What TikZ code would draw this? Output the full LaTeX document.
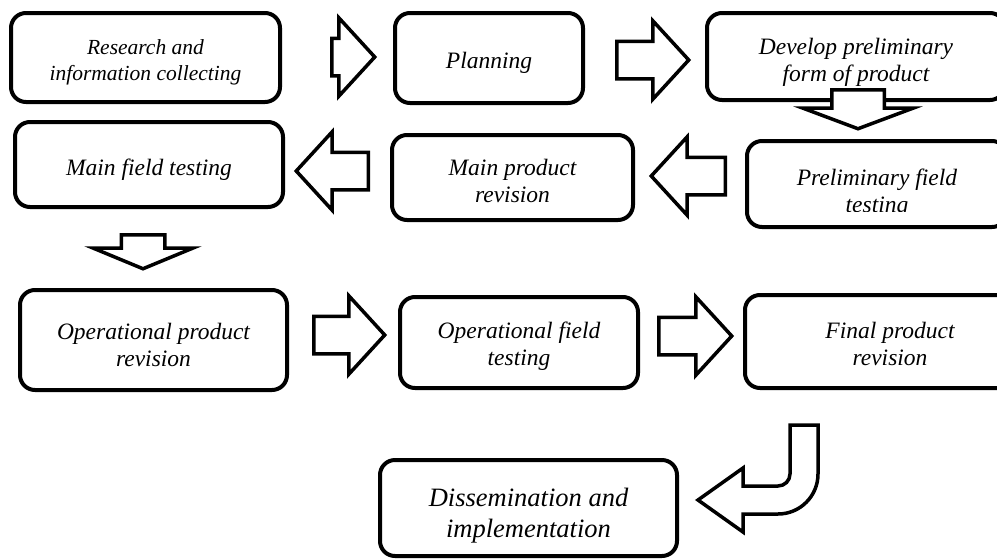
\documentclass[tikz,border=0pt]{standalone}
\usepackage{fontspec}
\setmainfont{Liberation Serif}
\usetikzlibrary{shapes.arrows}
\newcommand{\lift}[1][26pt]{\rule{0pt}{#1}}

\begin{document}
\begin{tikzpicture}[x=1pt,y=-1pt,
		stagebox/.style={draw,line width=4pt,rounded corners=15pt,fill=white,align=center,inner sep=0pt,font=\itshape\fontsize{23.5}{27}\selectfont},
		blockarrow/.style={single arrow,draw,line width=3.5pt,fill=white,inner xsep=0pt,inner ysep=17pt,anchor=tail,minimum width=75pt,single arrow head extend=20.5pt,single arrow tip angle=95}]
		\path[use as bounding box,fill=white] (0,0) rectangle (997,558);
		% first row
		\node[stagebox,minimum width=269pt,minimum height=89pt,font=\itshape\fontsize{21.5}{26}\selectfont] (research) at (145.5,57.5) {\lift[25pt]Research and\\information collecting};
		\node[stagebox,minimum width=188pt,minimum height=90pt] (planning) at (489,58) {\lift Planning};
		\node[stagebox,minimum width=298pt,minimum height=87pt] (develop) at (856,56.5) {\lift[28pt]Develop preliminary\\form of product};
		\node[blockarrow,minimum height=43pt] (arrA) at (330,57) {};
		\node[blockarrow,minimum height=72pt] (arrB) at (615,60) {};
		\node[blockarrow,rotate=-90,minimum height=39pt,minimum width=107pt,inner ysep=24.5pt,single arrow head extend=29pt,single arrow tip angle=139] (arrC) at (858,88) {};
		% second row
		\node[stagebox,minimum width=260pt,minimum height=86pt] (prelim) at (877,184) {};
		\begin{scope}
			\clip (747,141) rectangle (997,211);
			\node[stagebox,draw=none,fill=none] (prelimtext) at (877,188) {\lift Preliminary field\\testing};
		\end{scope}
		\node[stagebox,minimum width=241pt,minimum height=85pt] (mainrev) at (512.5,177.5) {\lift[23pt]Main product\\revision};
		\node[stagebox,minimum width=268pt,minimum height=85pt] (mainfield) at (149,164.5) {\lift Main field testing};
		\node[blockarrow,rotate=180,minimum height=74pt] (arrD) at (727,176) {};
		\node[blockarrow,rotate=180,minimum height=72pt] (arrE) at (370,171) {};
		\node[blockarrow,rotate=-90,minimum height=34pt,minimum width=96pt,inner ysep=20pt,single arrow head extend=28pt,single arrow tip angle=135] (arrF) at (143,233) {};
		% third row
		\node[stagebox,minimum width=267pt,minimum height=100pt] (oprev) at (153.5,340) {\lift Operational product\\revision};
		\node[stagebox,minimum width=238pt,minimum height=91pt] (opfield) at (519,342.5) {\lift[23pt]Operational field\\testing};
		\node[stagebox,minimum width=290pt,minimum height=93pt] (finalrev) at (890,341.5) {\lift[22pt]Final product\\revision};
		\node[blockarrow,minimum height=71pt] (arrG) at (312,335) {};
		\node[blockarrow,minimum height=73pt] (arrH) at (657,336) {};
		% last step
		\draw[line width=3.5pt,fill=white] (790,425) -- (818,425) -- (818,474) arc[start angle=0,end angle=90,radius=40]
			-- (743,514) -- (743,532) -- (698,500) -- (743,468) -- (743,486) -- (778,486) arc[start angle=90,end angle=0,radius=12] -- cycle;
		\node[stagebox,minimum width=297pt,minimum height=96pt,font=\itshape\fontsize{26.5}{31}\selectfont] (dissem) at (528.5,508) {\lift[34pt]Dissemination and\\implementation};
	\end{tikzpicture}
\end{document}
